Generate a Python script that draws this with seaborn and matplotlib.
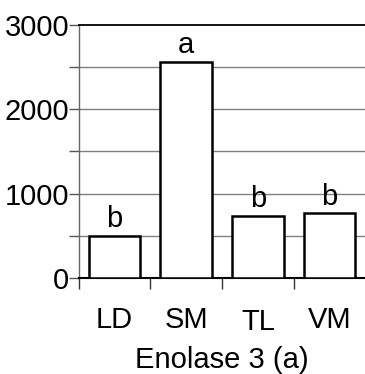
import matplotlib
matplotlib.use("Agg")
import matplotlib.pyplot as plt
import pandas as pd
import seaborn as sns

groups = ["LD", "SM", "TL", "VM"]
values = [500, 2560, 740, 765]
letters = ["b", "a", "b", "b"]

df = pd.DataFrame({"group": groups, "value": values})

sns.set_style("white")
plt.rcParams["font.family"] = ["Liberation Sans", "DejaVu Sans"]
plt.rcParams["text.color"] = "black"
plt.rcParams["axes.labelcolor"] = "black"
plt.rcParams["xtick.color"] = "black"
plt.rcParams["ytick.color"] = "black"

fig = plt.figure(figsize=(3.65, 3.74), dpi=100)
ax = fig.add_axes([0.216, 0.257, 0.785, 0.676])

sns.barplot(data=df, x="group", y="value", ax=ax, color="white",
            edgecolor="black", linewidth=1.8, width=0.72, zorder=3)

ax.set_ylim(0, 3000)
ax.set_xlim(-0.5, 3.5)

# grid every 500
for y in range(500, 3000, 500):
    ax.axhline(y, color="#808080", linewidth=1.0, zorder=1)

ax.set_yticks([0, 1000, 2000, 3000])
ax.set_yticks([500, 1500, 2500], minor=True)
ax.tick_params(axis="y", which="both", direction="out", length=7,
               width=1, color="#555555", left=True, pad=0, labelsize=21,
               labelcolor="black")

ax.set_xticks([0, 1, 2, 3])
ax.set_xticklabels(groups)
ax.set_xticks([-0.5, 0.5, 1.5, 2.5], minor=True)
ax.tick_params(axis="x", which="major", length=0, pad=20, labelsize=21,
               labelcolor="black")
ax.tick_params(axis="x", which="minor", direction="out", length=8,
               width=1, color="#333333", bottom=True)
ax.get_xticklabels()[2].set_y(-0.01)

ax.spines["right"].set_visible(False)
ax.spines["left"].set_color("#666666")
ax.spines["left"].set_linewidth(1.0)
ax.spines["bottom"].set_color("black")
ax.spines["bottom"].set_linewidth(1.5)
ax.spines["top"].set_color("black")
ax.spines["top"].set_linewidth(1.3)

for i, (v, t) in enumerate(zip(values, letters)):
    ax.annotate(t, (i, v), xytext=(0, 2), textcoords="offset points",
                ha="center", va="bottom", fontsize=21, color="black")

ax.set_xlabel("Enolase 3 (a)", fontsize=21, labelpad=7, color="black")
ax.set_ylabel("")

fig.savefig("out.png", dpi=100)
